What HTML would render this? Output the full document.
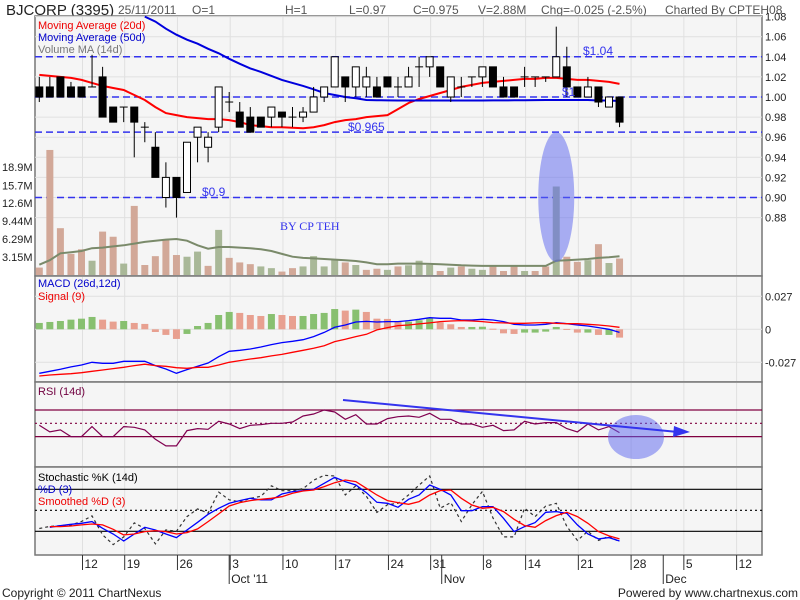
<!DOCTYPE html>
<html><head><meta charset="utf-8"><style>
body{margin:0;background:#fff;}
svg{display:block;font-family:"Liberation Sans",sans-serif;}
</style></head><body>
<svg id="chart" width="800" height="600" viewBox="0 0 800 600" xmlns="http://www.w3.org/2000/svg">
<rect x="0" y="0" width="800" height="600" fill="#fff"/>
<g font-size="12" fill="#555">
<text x="6" y="15" font-size="15" fill="#222">BJCORP (3395)</text>
<text x="118" y="14">25/11/2011</text>
<text x="192" y="14">O=1</text>
<text x="285" y="14">H=1</text>
<text x="349" y="14">L=0.97</text>
<text x="413" y="14">C=0.975</text>
<text x="478" y="14">V=2.88M</text>
<text x="541" y="14">Chg=-0.025 (-2.5%)</text>
<text x="665" y="14">Charted By CPTEH08</text>
</g>
<g id="panels"></g>
<g id="marks"></g>
<g font-size="11">
<text x="38" y="29" fill="#e00">Moving Average (20d)</text>
<text x="38" y="41" fill="#00c">Moving Average (50d)</text>
<text x="38" y="53" fill="#777">Volume MA (14d)</text>
<text x="38" y="287" fill="#00c">MACD (26d,12d)</text>
<text x="38" y="300" fill="#e00">Signal (9)</text>
<text x="38" y="395" fill="#700040">RSI (14d)</text>
<text x="38" y="481" fill="#000">Stochastic %K (14d)</text>
<text x="38" y="493" fill="#00c">%D (3)</text>
<text x="38" y="505" fill="#e00">Smoothed %D (3)</text>
</g>
<g fill="#3333ee" font-size="12">
<text x="583" y="55">$1.04</text>
<text x="562" y="96">$1</text>
<text x="348" y="131">$0.965</text>
<text x="202" y="196">$0.9</text>
<text x="280" y="230" font-family="Liberation Serif,serif">BY CP TEH</text>
</g>
<g font-size="12" fill="#222">
<text x="2" y="597">Copyright © 2011 ChartNexus</text>
<text x="798" y="597" text-anchor="end">Powered by www.chartnexus.com</text>
</g>
</svg>
<script>
const opens=[1.01,1.01,1.02,1.01,1.01,1.01,1.02,0.99,0.99,0.99,0.97,0.95,0.90,0.92,0.905,0.96,0.95,0.97,0.995,0.985,0.98,0.98,0.98,0.985,0.98,0.98,0.985,1.00,1.01,1.02,1.01,1.01,1.01,1.02,1.01,1.01,1.03,1.03,1.03,1.00,1.01,1.02,1.02,1.03,1.01,1.01,1.02,1.02,1.02,1.02,1.03,1.01,1.00,1.01,0.99,1.00];
const highs=[1.02,1.02,1.02,1.015,1.01,1.042,1.03,0.99,0.99,0.99,0.975,0.965,0.935,0.92,0.955,0.97,0.965,1.01,1.005,0.995,0.99,0.98,0.99,0.985,0.99,0.99,1.01,1.01,1.04,1.02,1.03,1.03,1.02,1.02,1.02,1.03,1.04,1.04,1.03,1.02,1.02,1.02,1.03,1.03,1.02,1.01,1.03,1.02,1.02,1.07,1.05,1.01,1.02,1.01,1.00,1.00];
const lows=[0.995,1.00,1.00,1.00,1.00,1.01,0.98,0.975,0.975,0.94,0.955,0.92,0.89,0.88,0.905,0.935,0.935,0.965,0.985,0.97,0.965,0.97,0.97,0.97,0.97,0.975,0.985,0.995,1.01,0.995,1.00,1.00,1.00,1.01,1.00,1.01,1.01,1.02,1.01,0.995,1.00,1.01,1.01,1.01,1.00,1.00,1.01,1.01,1.015,1.02,1.00,1.00,1.00,0.99,0.99,0.97];
const closes=[1.00,1.00,1.00,1.00,1.00,1.01,0.98,0.975,0.99,0.975,0.97,0.92,0.92,0.90,0.955,0.97,0.96,1.01,0.995,0.97,0.965,0.97,0.99,0.98,0.98,0.985,1.00,1.01,1.04,1.01,1.03,1.02,1.00,1.01,1.01,1.02,1.03,1.04,1.01,1.02,1.01,1.02,1.03,1.01,1.00,1.00,1.02,1.02,1.02,1.04,1.01,1.00,1.01,0.995,1.00,0.975];
const volumes=[1.3,21.9,8.2,3.7,4.5,2.5,7.6,6.7,2.0,12.1,1.75,3.3,6.1,3.5,3.2,4.1,1.6,7.9,3.0,2.2,1.9,1.5,1.2,0.6,1.2,1.5,3.3,1.5,2.6,2.2,1.75,0.9,1.1,0.9,1.5,1.7,2.5,1.75,0.7,1.3,1.5,1.1,0.9,1.5,0.7,1.75,0.7,0.7,1.5,15.5,3.2,2.3,2.6,5.4,2.1,2.88];
const volumeMA=[1.8,2.6,3.8,4.0,4.2,4.7,4.8,5.0,5.2,5.5,5.8,6.0,6.2,6.3,6.0,5.2,4.6,4.9,4.9,4.8,4.7,4.5,4.2,3.7,3.2,3.0,2.9,2.8,2.7,2.6,2.45,2.2,1.9,1.9,2.0,2.0,2.0,1.95,1.9,1.8,1.7,1.65,1.6,1.6,1.6,1.6,1.6,1.6,1.6,2.5,2.6,2.7,2.8,3.0,3.1,3.3];
const ma20=[1.022,1.021,1.020,1.019,1.017,1.014,1.011,1.009,1.007,1.002,0.997,0.990,0.984,0.982,0.980,0.979,0.978,0.978,0.977,0.975,0.972,0.971,0.970,0.970,0.9695,0.969,0.970,0.972,0.975,0.977,0.978,0.980,0.981,0.982,0.988,0.994,0.998,1.001,1.004,1.007,1.010,1.012,1.014,1.015,1.016,1.017,1.018,1.018,1.019,1.019,1.018,1.017,1.017,1.016,1.015,1.013];
const ma50=[null,null,null,null,null,null,null,null,null,null,1.080,1.075,1.068,1.062,1.057,1.053,1.048,1.0435,1.038,1.033,1.0285,1.025,1.021,1.017,1.014,1.011,1.0077,1.004,1.002,1.000,0.9987,0.997,0.9968,0.9966,0.9965,0.9965,0.9965,0.9965,0.9965,0.9965,0.9965,0.9965,0.9965,0.9966,0.9966,0.9967,0.9968,0.9969,0.997,0.997,0.997,0.997,0.997,0.9965,0.9965,0.996];
const macdHist=[0.0052,0.006,0.0068,0.0079,0.0087,0.0101,0.0079,0.0063,0.0068,0.0052,0.0044,-0.0022,-0.0046,-0.0079,-0.0038,0.0027,0.0052,0.0117,0.0142,0.0134,0.0117,0.0109,0.0125,0.0117,0.0109,0.0109,0.0125,0.0134,0.0166,0.0153,0.0161,0.0142,0.0087,0.0085,0.0063,0.0063,0.0074,0.009,0.0057,0.0041,0.0019,0.0019,0.0021,0.0005,-0.0033,-0.0038,-0.0027,-0.0027,-0.0019,0.0019,0.0003,-0.0027,-0.0027,-0.0046,-0.0046,-0.0068];
const macdLine=[-0.036,-0.0344,-0.0327,-0.0308,-0.0292,-0.027,-0.0278,-0.0278,-0.0262,-0.0262,-0.0262,-0.0297,-0.0325,-0.036,-0.033,-0.0303,-0.0276,-0.0224,-0.018,-0.0172,-0.0161,-0.0145,-0.0125,-0.0109,-0.0098,-0.0085,-0.006,-0.0025,0.0016,0.0035,0.006,0.0065,0.006,0.0063,0.0063,0.0071,0.0082,0.0095,0.009,0.009,0.0076,0.0076,0.0082,0.0076,0.0063,0.0041,0.0035,0.0035,0.0041,0.0055,0.0046,0.0035,0.0027,0.0014,0,-0.0025];
const signalLine=[-0.0382,-0.0374,-0.0368,-0.0363,-0.0355,-0.0344,-0.0333,-0.0322,-0.0311,-0.0297,-0.0286,-0.0297,-0.0303,-0.0314,-0.0319,-0.0311,-0.0311,-0.0292,-0.027,-0.0256,-0.0243,-0.0232,-0.0218,-0.0205,-0.0188,-0.0172,-0.0155,-0.0134,-0.0101,-0.0082,-0.006,-0.0041,-0.0005,0.0014,0.003,0.0035,0.0044,0.0052,0.0063,0.0068,0.0071,0.0068,0.0063,0.0055,0.0052,0.0049,0.0049,0.0052,0.0055,0.0049,0.0046,0.0046,0.0041,0.0035,0.0027,0.0016];
const rsiValues=[47,37,40,30,30,45,30,30,45,44,40,26,16,16,39,42,41,53,49,42,47,48,50,50,52,61,64,70,67,56,63,49,49,57,60,61,59,65,56,56,49,49,44,47,39,40,53,49,51,51,42,37,49,40,45,36];
const stochK=[24,27,28,29,34,42,15,1,12,32,24,2,22,20,41,52,46,76,65,62,67,70,85,78,78,81,93,100,99,72,85,70,47,58,60,72,86,99,53,61,34,58,77,39,12,12,53,41,56,60,27,7,20,7,13,5];
const stochD=[null,25.7,28.1,30,31.5,33.8,24.3,16.2,6.2,16.2,25.7,21.9,16.2,11,21.9,32.9,44.3,52.9,60,63.8,67.2,64.8,64.8,73.3,76.7,78.1,80,88.6,97.1,91,86.2,75.2,61.4,60,54.3,65.7,71.9,86.2,80,71.9,49.5,49.5,55.3,55.3,38.6,19.5,26.7,32.4,47.2,48.1,45.7,29.1,16.2,9.1,11,6.2];
const stochSmooth=[null,26.7,26.7,27.6,29.1,30.5,29.1,22.9,14.8,16.2,19.5,21,19.5,16.2,18.1,23.4,33.8,44.8,56.2,61,63.8,65.7,67.2,69.5,74.3,77.6,79,83.8,89.5,93.3,91,81.4,71.9,63.8,61,58.6,62.4,71.9,78.1,79,67.2,57.6,52.9,54.3,48.1,37.2,28.1,25.7,35.3,42.4,47.2,41,31.5,19.5,13.4,9.1];
const dayTickIndex=[4,8,13,18,23,28,33,37,42,46,51,56,61,66];
const dayTickLabels=["12","19","26","3","10","17","24","31","8","14","21","28","5","12"];
const monthTickIndex=[18,38,59];
const monthTickLabels=["Oct '11","Nov","Dec"];
const priceTicks=[1.08,1.06,1.04,1.02,1.00,0.98,0.96,0.94,0.92,0.90,0.88];
const volumeTicks=[3.15,6.29,9.44,12.6,15.7,18.9];
const volumeTickLabels=["3.15M","6.29M","9.44M","12.6M","15.7M","18.9M"];
const macdTicks=[0.027,0,-0.027];
const macdTickLabels=["0.027","0","-0.027"];
const supportLevels=[1.04,1.00,0.965,0.90];

const NS="http://www.w3.org/2000/svg";
const L=35,R=762;
const xc=i=>39.3+i*10.55;
const py=p=>97-(p-1)*1005;
const vy=v=>275-v*5.71;
const my=m=>329.3-m*1222;
const ry=r=>423.3-(r-50)*0.665;
const sy=s=>510.3-(s-50)*0.7;
const panelsG=document.getElementById('panels');
const marks=document.getElementById('marks');
function el(tag,attrs,parent){const e=document.createElementNS(NS,tag);for(const k in attrs)e.setAttribute(k,attrs[k]);parent.appendChild(e);return e;}
function polyPts(arr,fy){const pts=[];arr.forEach((v,i)=>{if(v!==null&&v!==undefined)pts.push(xc(i).toFixed(1)+','+fy(v).toFixed(1));});return pts.join(' ');}

const panelDefs=[['price-panel',16,276],['macd-panel',276,382],['rsi-panel',382,467],['stochastic-panel',467,555]];
panelDefs.forEach(d=>{
  const r=el('rect',{x:L,y:d[1],width:R-L,height:d[2]-d[1],fill:'#f5f5f5',stroke:'#777','stroke-width':1.5},panelsG);
  
  
  dayTickIndex.forEach(ti=>{
    const g=el('line',{x1:xc(ti)+1,x2:xc(ti)+1,y1:d[1]+1,y2:d[2]-1,stroke:'#e0e0e0','stroke-width':1},panelsG);
    
    
  });
});
priceTicks.forEach(p=>{
  const g=el('line',{x1:L,x2:R,y1:py(p),y2:py(p),stroke:'#e0e0e0'},panelsG);
  
  
  const t=el('text',{x:765,y:py(p)+4,'font-size':11,fill:'#222'},panelsG);
  t.textContent=p.toFixed(2);
  
  
});
volumeTicks.forEach((v,i)=>{
  const t=el('text',{x:2,y:vy(v)+4,'font-size':11,fill:'#222'},panelsG);
  t.textContent=volumeTickLabels[i];
  
  
});
macdTicks.forEach((m,i)=>{
  const g=el('line',{x1:L,x2:R,y1:my(m),y2:my(m),stroke:'#e0e0e0'},panelsG);
  
  
  const t=el('text',{x:765,y:my(m)+4,'font-size':11,fill:'#222'},panelsG);
  t.textContent=macdTickLabels[i];
  
  
});
[[70,'none'],[50,'2,3'],[30,'none']].forEach(d=>{
  const g=el('line',{x1:L,x2:R,y1:ry(d[0]),y2:ry(d[0]),stroke:'#800040','stroke-width':1.2,'stroke-dasharray':d[1]},panelsG);
  
  
});
[[80,'none'],[50,'2,3'],[20,'none']].forEach(d=>{
  const g=el('line',{x1:L,x2:R,y1:sy(d[0]),y2:sy(d[0]),stroke:'#000','stroke-width':1.2,'stroke-dasharray':d[1]},panelsG);
  
  
});
dayTickIndex.forEach((ti,k)=>{
  const x=xc(ti)+1;
  const tk=el('line',{x1:x,x2:x,y1:555,y2:570,stroke:'#333'},panelsG);
  
  
  const t=el('text',{x:x+2,y:568,'font-size':12,fill:'#222'},panelsG);
  t.textContent=dayTickLabels[k];
  
  
});
monthTickIndex.forEach((ti,k)=>{
  const x=xc(ti)-(k===0?0:-1.5);
  const tk=el('line',{x1:x,x2:x,y1:555,y2:584,stroke:'#333'},panelsG);
  
  
  const t=el('text',{x:x+2,y:583,'font-size':12,fill:'#222'},panelsG);
  t.textContent=monthTickLabels[k];
  
  
});
supportLevels.forEach(p=>{
  const g=el('line',{x1:L,x2:R,y1:py(p),y2:py(p),stroke:'#3333ee','stroke-width':1.5,'stroke-dasharray':'7,4'},marks);
  
  
});
volumes.forEach((v,i)=>{
  const up=i>0&&closes[i]>closes[i-1];
  const b=el('rect',{x:xc(i)-3.5,y:vy(v),width:7,height:275-vy(v),fill:up?'#a9b898':'#d2a898'},marks);
  
  
});
const vma=el('polyline',{points:polyPts(volumeMA,vy),fill:'none',stroke:'#7a8a6a','stroke-width':2},marks);


const ell=el('ellipse',{cx:xc(49),cy:197,rx:18,ry:65,fill:'rgba(90,100,240,0.5)'},marks);


const m20=el('polyline',{points:polyPts(ma20,py),fill:'none',stroke:'#f00','stroke-width':2},marks);


const m50=el('polyline',{points:polyPts(ma50,py),fill:'none',stroke:'#00d','stroke-width':2},marks);


opens.forEach((o,i)=>{
  const c=closes[i],x=xc(i);
  const w=el('line',{x1:x,x2:x,y1:py(highs[i]),y2:py(lows[i]),stroke:'#000','stroke-width':1},marks);
  
  
  if(Math.abs(c-o)<1e-6){
    const d=el('line',{x1:x-4,x2:x+4,y1:py(o),y2:py(o),stroke:'#000','stroke-width':1},marks);
    
    
  }else{
    const top=py(Math.max(o,c)),bot=py(Math.min(o,c));
    const b=el('rect',{x:x-3.5,y:top,width:7,height:bot-top,fill:c>o?'#fff':'#000',stroke:'#000','stroke-width':1},marks);
    
    
  }
});
macdHist.forEach((h,i)=>{
  const up=i===0||h>=macdHist[i-1];
  const y0=my(0),y1=my(h);
  const b=el('rect',{x:xc(i)-3.5,y:Math.min(y0,y1),width:7,height:Math.max(1,Math.abs(y1-y0)),fill:up?'#88c070':'#e8a090'},marks);
  
  
});
const ml=el('polyline',{points:polyPts(macdLine,my),fill:'none',stroke:'#00f','stroke-width':1.3},marks);


const sl=el('polyline',{points:polyPts(signalLine,my),fill:'none',stroke:'#f00','stroke-width':1.3},marks);


const rl=el('polyline',{points:polyPts(rsiValues,ry),fill:'none',stroke:'#800050','stroke-width':1.2},marks);


const rel=el('ellipse',{cx:636,cy:437,rx:28,ry:22,fill:'rgba(90,100,240,0.5)'},marks);


const tl=el('line',{x1:343,y1:400,x2:678,y2:432,stroke:'#3333ee','stroke-width':2},marks);


const ar=el('polygon',{points:'674,426 690,432 673,437',fill:'#3333ee'},marks);


const sk=el('polyline',{points:polyPts(stochK,sy),fill:'none',stroke:'#333','stroke-width':1.2,'stroke-dasharray':'3,3'},marks);


const sd=el('polyline',{points:polyPts(stochD,sy),fill:'none',stroke:'#00f','stroke-width':1.3},marks);


const ss=el('polyline',{points:polyPts(stochSmooth,sy),fill:'none',stroke:'#f00','stroke-width':1.3},marks);


</script>
</body></html>
